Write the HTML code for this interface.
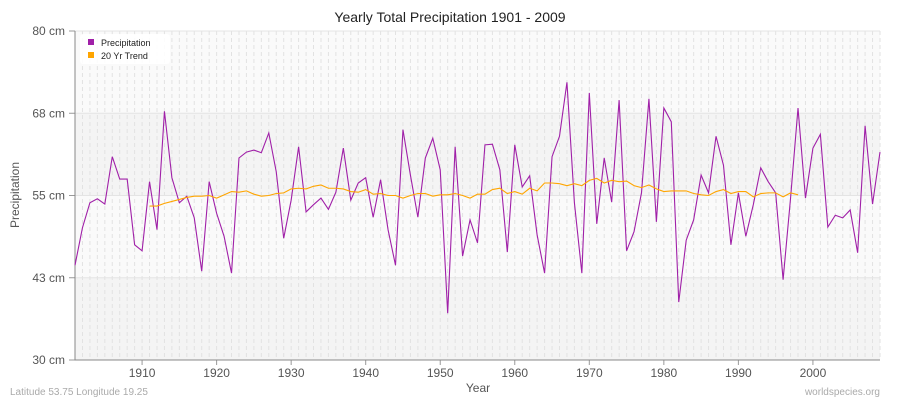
<!DOCTYPE html>
<html><head><meta charset="utf-8"><style>
body{margin:0;background:#fff;font-family:"Liberation Sans",sans-serif}
svg text{font-family:"Liberation Sans",sans-serif}
</style></head><body>
<svg id="c" width="900" height="400"></svg>
<script>
const years=[];for(let y=1901;y<=2009;y++)years.push(y);
const precip=[44.4,50.1,53.9,54.5,53.7,60.9,57.5,57.5,47.5,46.6,57.1,49.8,67.8,57.7,53.9,54.9,51.6,43.5,57.1,52.3,48.8,43.2,60.7,61.6,61.9,61.5,64.5,58.6,48.5,54.3,62.4,52.5,53.6,54.6,52.9,55.5,62.2,54.3,56.9,57.7,51.7,57.4,49.8,44.4,65.0,58.1,51.7,60.7,63.7,58.9,37.1,62.4,45.8,51.3,47.8,62.7,62.8,58.9,46.4,62.7,56.3,58.0,49.0,43.2,60.9,64.0,72.2,53.9,43.2,70.6,50.7,60.7,54.0,69.5,46.6,49.5,55.4,69.7,51.0,68.3,66.2,38.8,48.2,51.3,58.1,55.4,64.0,59.6,47.5,55.4,48.8,53.6,59.2,57.1,55.4,42.2,54.6,68.3,54.6,62.2,64.3,50.2,52.0,51.6,52.8,46.3,65.6,53.7,61.6];
const trendStart=1911;
const trend=[53.4,53.4,53.8,54.1,54.4,54.7,54.9,54.9,55.0,54.6,55.1,55.6,55.5,55.7,55.2,54.9,55.0,55.3,55.4,56.0,56.1,56.0,56.4,56.6,56.1,56.1,56.0,55.6,55.5,55.9,55.2,55.3,55.0,55.0,54.6,55.0,55.3,55.3,54.9,55.1,55.1,55.3,55.0,54.6,55.2,55.2,55.9,56.1,55.3,55.6,55.2,56.1,55.7,56.9,56.9,56.8,56.5,56.8,56.5,57.3,57.6,56.9,57.3,57.1,57.2,56.5,56.2,56.6,56.0,55.6,55.7,55.7,55.7,55.3,55.1,55.0,55.6,55.9,55.3,55.6,55.6,54.8,55.3,55.4,55.4,54.8,55.4,55.1];
const yTicks=[30,42.5,55,67.5,80];
const yTickLabels=["30 cm","43 cm","55 cm","68 cm","80 cm"];
const xTicks=[1910,1920,1930,1940,1950,1960,1970,1980,1990,2000];
const L=75,R=880,T=31,B=360;
const X=y=>L+(y-1901)*(R-L)/108;
const Y=v=>B-(v-30)*(B-T)/50;
const svg=document.getElementById('c');const NS='http://www.w3.org/2000/svg';
function mk(t,a,p){const e=document.createElementNS(NS,t);for(const k in a)e.setAttribute(k,a[k]);(p||svg).appendChild(e);return e;}
// bands
for(let i=0;i<4;i++){const r=mk('rect',{x:L,y:Y(yTicks[i+1]),width:R-L,height:Y(yTicks[i])-Y(yTicks[i+1]),fill:i%2==0?'#f4f4f4':'#fafafa'});

}
// vertical dashed grid per year
for(const y of years){const l=mk('line',{x1:X(y),x2:X(y),y1:T,y2:B,stroke:'#e2e2e2','stroke-dasharray':'4,3','stroke-width':1});

}
yTicks.forEach((v,i)=>{const l=mk('line',{x1:L,x2:R,y1:Y(v),y2:Y(v),stroke:'#e4e4e4','stroke-width':1});


const tk=mk('line',{x1:L-6,x2:L,y1:Y(v),y2:Y(v),stroke:'#999'});


const t=mk('text',{x:L-10,y:Y(v)+4,'text-anchor':'end','font-size':12,fill:'#555'});t.textContent=yTickLabels[i];

});
xTicks.forEach(v=>{const tk=mk('line',{x1:X(v),x2:X(v),y1:B,y2:B+5,stroke:'#999'});


const t=mk('text',{x:X(v),y:B+17,'text-anchor':'middle','font-size':12,fill:'#555'});t.textContent=v;

});
const ax=mk('path',{d:`M${L},${T}V${B}H${R}`,fill:'none',stroke:'#888','stroke-width':1});


const p=mk('polyline',{points:precip.map((v,i)=>X(years[i])+','+Y(v)).join(' '),fill:'none',stroke:'#a020a8','stroke-width':1.1});


const tr=mk('polyline',{points:trend.map((v,i)=>X(trendStart+i)+','+Y(v)).join(' '),fill:'none',stroke:'#ffa500','stroke-width':1.1});


function txt(s,a,n){const t=mk('text',a);t.textContent=s;return t;}
txt('Yearly Total Precipitation 1901 - 2009',{x:450,y:22,'text-anchor':'middle','font-size':14,fill:'#222'},'chart-title');
txt('Year',{x:478,y:392,'text-anchor':'middle','font-size':12,fill:'#555'},'x-axis-title');
txt('Precipitation',{x:19,y:195,'text-anchor':'middle','font-size':12,fill:'#555',transform:'rotate(-90 19 195)'},'y-axis-title');
txt('Latitude 53.75 Longitude 19.25',{x:10,y:395,'font-size':10,fill:'#aaa'},'location-note');
txt('worldspecies.org',{x:880,y:395,'text-anchor':'end','font-size':10,fill:'#aaa'},'source-credit');
const lg=mk('g',{});
mk('rect',{x:80,y:34,width:90,height:30,fill:'#fff',opacity:0.9,rx:3},lg);
mk('rect',{x:88,y:39,width:6,height:6,fill:'#a020a8'},lg);
mk('rect',{x:88,y:52,width:6,height:6,fill:'#ffa500'},lg);
const t1=mk('text',{x:101,y:46,'font-size':9,fill:'#222'},lg);t1.textContent='Precipitation';


const t2=mk('text',{x:101,y:59,'font-size':9,fill:'#222'},lg);t2.textContent='20 Yr Trend';


</script>
</body></html>
